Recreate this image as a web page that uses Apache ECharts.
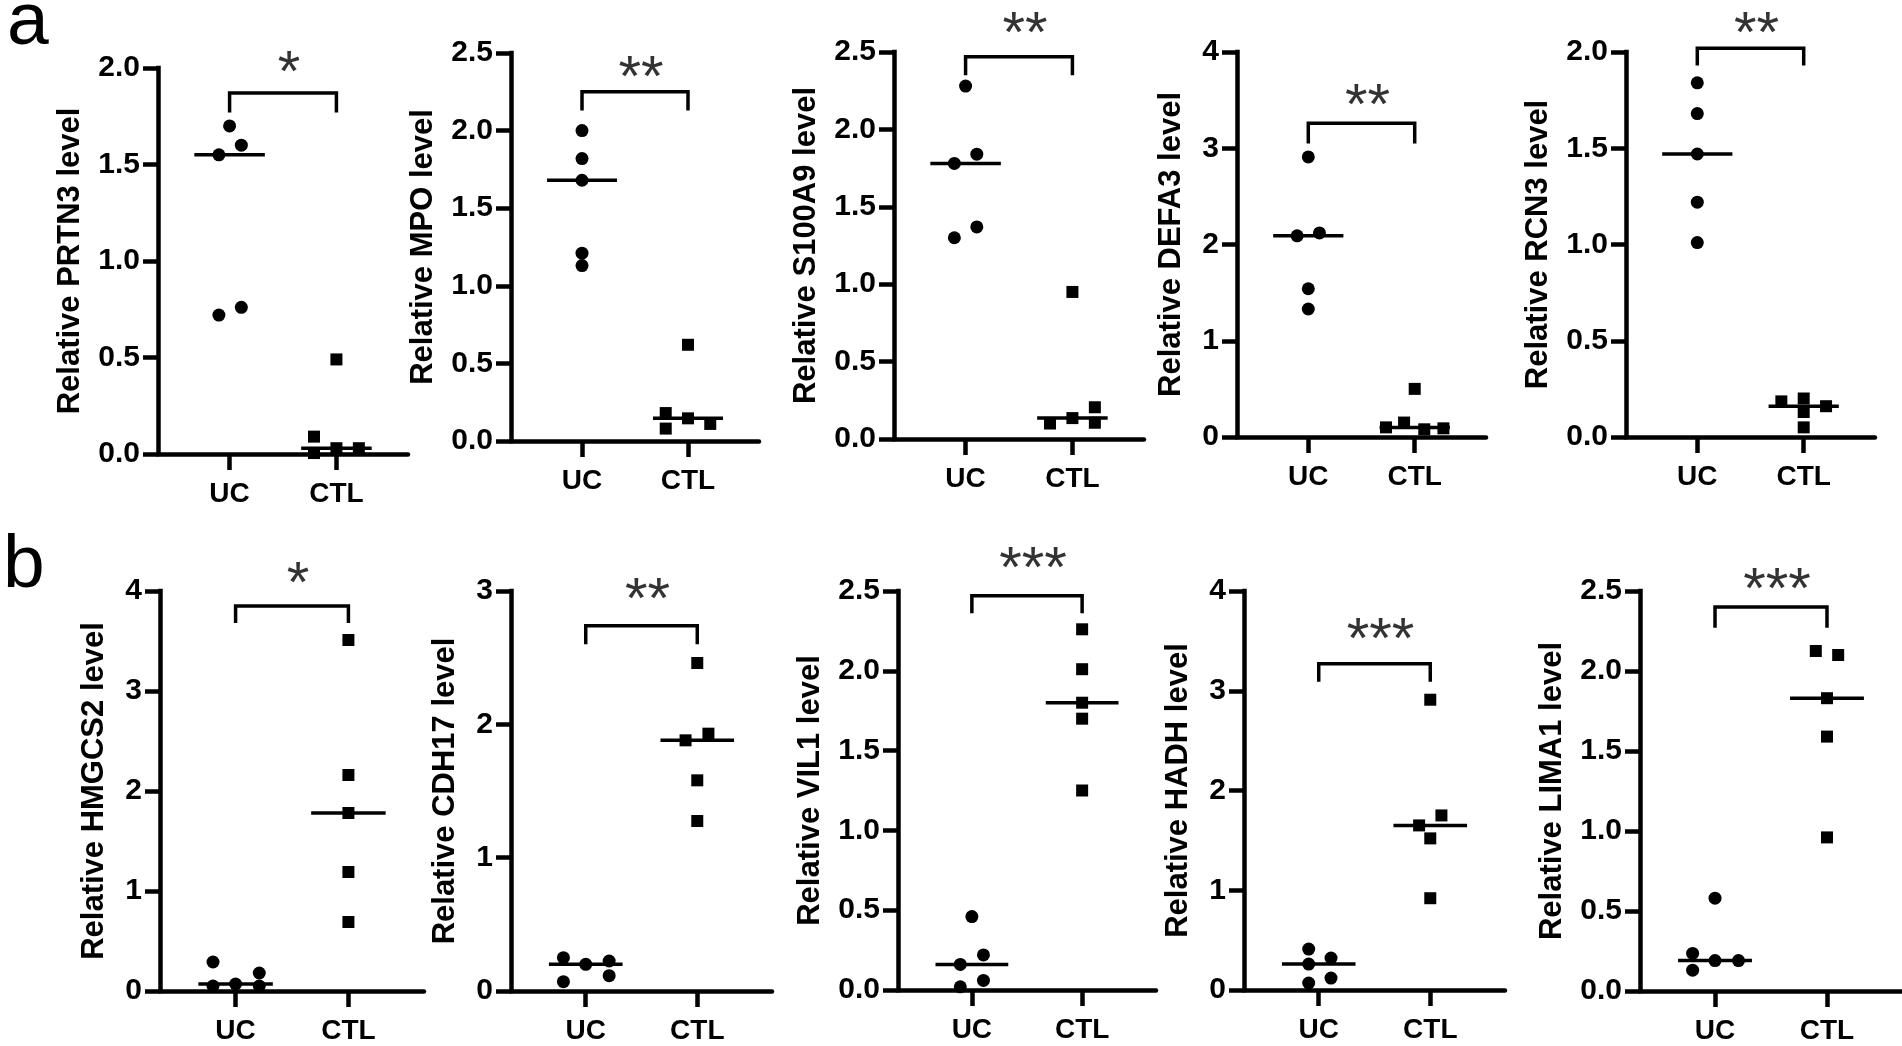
<!DOCTYPE html>
<html><head><meta charset="utf-8">
<script src="https://cdn.jsdelivr.net/npm/echarts@6/dist/echarts.min.js"></script>
<style>html,body{margin:0;padding:0;background:#fff}#c{width:1902px;height:1046px}</style>
</head><body><div id="c"></div><script>
// ---------------- data ----------------
const genes = ['PRTN3','MPO','S100A9','DEFA3','RCN3','HMGCS2','CDH17','VIL1','HADH','LIMA1'];
const groups = ['UC','CTL'];
const yMax  = [2, 2.5, 2.5, 4, 2, 4, 3, 2.5, 4, 2.5];
const yStep = [0.5, 0.5, 0.5, 1, 0.5, 1, 1, 0.5, 1, 0.5];
const ucValues = [
  [1.70,1.60,1.55,0.72,0.76],
  [2.00,1.82,1.68,1.21,1.13],
  [2.28,1.78,1.84,1.37,1.30],
  [2.91,2.09,2.12,1.54,1.33],
  [1.84,1.68,1.47,1.22,1.01],
  [0.29,0.18,0.05,0.07,0.05],
  [0.25,0.20,0.225,0.07,0.115],
  [0.46,0.22,0.16,0.02,0.06],
  [0.41,0.26,0.32,0.12,0.07],
  [0.58,0.235,0.19,0.19,0.13]
];
const ucX = [
  [1.00,1.11,0.90,0.90,1.11],
  [1.00,1.00,1.00,1.00,1.00],
  [1.00,0.895,1.105,1.105,0.895],
  [1.00,0.895,1.105,1.00,1.00],
  [1.00,1.00,1.00,1.00,1.00],
  [0.80,1.21,0.80,1.00,1.21],
  [0.80,1.00,1.21,0.80,1.21],
  [1.00,1.105,0.895,0.895,1.105],
  [0.91,0.91,1.11,1.11,0.91],
  [1.00,0.80,1.00,1.21,0.80]
];
const ctlValues = [
  [0.49,0.09,0.005,0.03,0.03],
  [0.62,0.18,0.08,0.146,0.11],
  [0.95,0.10,0.135,0.205,0.105],
  [0.50,0.10,0.15,0.08,0.09],
  [0.185,0.20,0.13,0.05,0.16],
  [3.51,2.16,1.78,1.19,0.69],
  [2.46,1.88,1.93,1.58,1.275],
  [2.26,2.01,1.80,1.70,1.25],
  [2.91,1.65,1.75,1.52,0.92],
  [2.125,2.10,1.83,1.59,0.96]
];
const ctlX = [
  [2.00,1.79,1.79,2.00,2.21],
  [2.00,1.79,1.79,2.00,2.21],
  [2.00,1.79,2.00,2.21,2.21],
  [2.00,1.73,1.90,2.09,2.27],
  [1.79,2.00,2.00,2.00,2.21],
  [2.00,2.00,2.00,2.00,2.00],
  [2.00,1.895,2.10,2.00,2.00],
  [2.00,2.00,2.00,2.00,2.00],
  [2.00,1.90,2.10,2.00,2.00],
  [1.90,2.10,2.00,2.00,2.00]
];
const sigLabels  = ['*','**','**','**','**','*','**','***','***','***'];
const bracketTop  = [1.87,2.25,2.47,3.26,2.02,3.85,2.74,2.47,3.27,2.40];
const bracketFoot = [1.77,2.13,2.35,3.05,1.93,3.68,2.60,2.36,3.09,2.27];
const sigLevel    = [2.04,2.42,2.70,3.57,2.16,4.20,3.03,2.72,3.64,2.59];

// ---------------- layout (pixels) ----------------
const panelBox = [
  {left:158, top:68, width:250, height:386},
  {left:511, top:53, width:248, height:388},
  {left:894, top:52, width:250, height:387},
  {left:1237, top:52, width:249, height:385},
  {left:1626, top:52, width:249, height:385},
  {left:160, top:591, width:264, height:400},
  {left:511, top:591, width:261, height:400},
  {left:898, top:591, width:258, height:399},
  {left:1244, top:591, width:261, height:399},
  {left:1640, top:591, width:262, height:400}
];

const FONT = "'Liberation Sans', Arial, sans-serif";
const median = a => { const s = a.slice().sort((p,q)=>p-q); return s[Math.floor(s.length/2)]; };

const grid = [], xAxis = [], yAxis = [], series = [];
genes.forEach((g, i) => {
  grid.push(Object.assign({outerBoundsMode:'none', containLabel:false}, panelBox[i]));
  xAxis.push({
    type:'value', gridIndex:i, min:0.33, max:2.67,
    splitLine:{show:false},
    axisLine:{show:true, onZero:false, lineStyle:{color:'#000', width:4.5}},
    axisTick:{show:true, customValues:[1,2], length:16, lineStyle:{color:'#000', width:4.5}},
    axisLabel:{show:true, customValues:[1,2], formatter:v => groups[Math.round(v)-1],
      fontSize:28, fontWeight:'bold', fontFamily:FONT, color:'#000', margin:26}
  });
  const dec = yStep[i] < 1;
  yAxis.push({
    type:'value', gridIndex:i, min:0, max:yMax[i], interval:yStep[i],
    splitLine:{show:false},
    axisLine:{show:true, lineStyle:{color:'#000', width:4.5, cap:'square'}},
    axisTick:{show:true, length:15, lineStyle:{color:'#000', width:4.5}},
    axisLabel:{formatter:v => dec ? v.toFixed(1) : String(v),
      fontSize:30, fontWeight:'bold', fontFamily:FONT, color:'#000', margin:18},
    name:'Relative ' + g + ' level', nameLocation:'middle', nameRotate:90,
    nameGap: dec ? 72 : 50,
    nameTextStyle:{fontSize:31, fontWeight:'bold', fontFamily:FONT, color:'#000'}
  });
  const common = {xAxisIndex:i, yAxisIndex:i, silent:true, animation:false, clip:false};
  series.push(Object.assign({type:'scatter', symbol:'circle', symbolSize:13,
    itemStyle:{color:'#000', opacity:1}, data: ucValues[i].map((v,k)=>[ucX[i][k], v])}, common));
  series.push(Object.assign({type:'scatter', symbol:'rect', symbolSize:12,
    itemStyle:{color:'#000', opacity:1}, data: ctlValues[i].map((v,k)=>[ctlX[i][k], v])}, common));
  [[1, median(ucValues[i])], [2, median(ctlValues[i])]].forEach(([c, m]) => {
    series.push(Object.assign({type:'line', symbol:'none', z:3,
      lineStyle:{color:'#000', width:3.5}, data:[[c-0.33, m],[c+0.33, m]]}, common));
  });
  series.push(Object.assign({type:'line', symbol:'none',
    lineStyle:{color:'#000', width:3.5, join:'miter', cap:'butt'},
    data:[[1, bracketFoot[i]],[1, bracketTop[i]],[2, bracketTop[i]],[2, bracketFoot[i]]]}, common));
  series.push(Object.assign({type:'scatter', symbolSize:1, itemStyle:{color:'rgba(0,0,0,0)'},
    label:{show:true, position:'inside', formatter:sigLabels[i], fontSize:58, fontFamily:FONT,
      color:'#000', offset:[6,15]},
    data:[[1.5, sigLevel[i]]]}, common));
});

const chart = echarts.init(document.getElementById('c'), null, {renderer:'canvas'});
chart.setOption({
  backgroundColor:'#fff', animation:false,
  grid, xAxis, yAxis, series,
  graphic:[
    {type:'text', x:7, y:23, style:{text:'a', font:"75px 'Liberation Sans', Arial, sans-serif", fill:'#000', verticalAlign:'middle', align:'left'}},
    {type:'text', x:3, y:566, style:{text:'b', font:"75px 'Liberation Sans', Arial, sans-serif", fill:'#000', verticalAlign:'middle', align:'left'}}
  ]
});
</script></body></html>
